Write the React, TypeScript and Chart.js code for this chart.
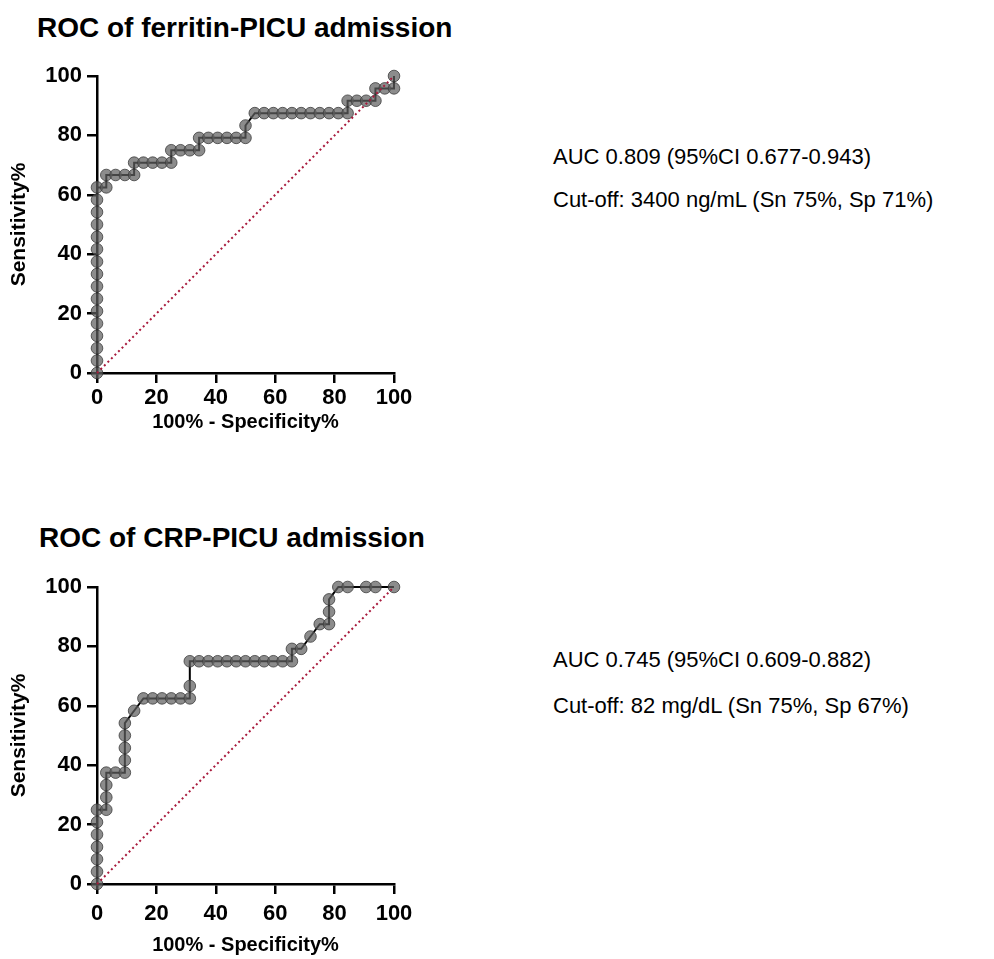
import React, { useEffect, useRef } from 'react';
import { Chart, registerables } from 'chart.js';

Chart.register(...registerables);

const FONT = '"Liberation Sans", Arial, Helvetica, sans-serif';

// ROC of ferritin – 100% - Specificity% (x) and Sensitivity% (y)
const ferritinX = [
  0, 0, 0, 0, 0, 0, 0, 0, 0, 0, 0, 0, 0, 0, 0, 0,
  3.13, 3.13, 6.25, 9.38, 12.5, 12.5, 15.63, 18.75, 21.88, 25, 25, 28.13, 31.25, 34.38,
  34.38, 37.5, 40.63, 43.75, 46.88, 50, 50, 53.13, 56.25, 59.38, 62.5, 65.63, 68.75,
  71.88, 75, 78.13, 81.25, 84.38, 84.38, 87.5, 90.63, 93.75, 93.75, 96.88, 100, 100,
];
const ferritinY = [
  0, 4.17, 8.33, 12.5, 16.67, 20.83, 25, 29.17, 33.33, 37.5, 41.67, 45.83, 50, 54.17, 58.33, 62.5,
  62.5, 66.67, 66.67, 66.67, 66.67, 70.83, 70.83, 70.83, 70.83, 70.83, 75, 75, 75, 75,
  79.17, 79.17, 79.17, 79.17, 79.17, 79.17, 83.33, 87.5, 87.5, 87.5, 87.5, 87.5, 87.5,
  87.5, 87.5, 87.5, 87.5, 87.5, 91.67, 91.67, 91.67, 91.67, 95.83, 95.83, 95.83, 100,
];

// ROC of CRP
const crpX = [
  0, 0, 0, 0, 0, 0, 0,
  3.13, 3.13, 3.13, 3.13, 6.25, 9.38, 9.38, 9.38, 9.38, 9.38,
  12.5, 15.63, 18.75, 21.88, 25, 28.13, 31.25, 31.25, 31.25,
  34.38, 37.5, 40.63, 43.75, 46.88, 50, 53.13, 56.25, 59.38, 62.5, 65.63,
  65.63, 68.75, 71.88, 75, 78.13, 78.13, 78.13,
  81.25, 84.38, 90.63, 93.75, 100,
];
const crpY = [
  0, 4.17, 8.33, 12.5, 16.67, 20.83, 25,
  25, 29.17, 33.33, 37.5, 37.5, 37.5, 41.67, 45.83, 50, 54.17,
  58.33, 62.5, 62.5, 62.5, 62.5, 62.5, 62.5, 66.67, 75,
  75, 75, 75, 75, 75, 75, 75, 75, 75, 75, 75,
  79.17, 79.17, 83.33, 87.5, 87.5, 91.67, 95.83,
  100, 100, 100, 100, 100,
];

const refX = [0, 100];
const refY = [0, 100];

const axisTicks = [0, 20, 40, 60, 80, 100];

const xTitle = '100% - Specificity%';
const yTitle = 'Sensitivity%';

const panels = [
  {
    title: 'ROC of ferritin-PICU admission',
    auc: 'AUC 0.809 (95%CI 0.677-0.943)',
    cutoff: 'Cut-off: 3400 ng/mL (Sn 75%, Sp 71%)',
  },
  {
    title: 'ROC of CRP-PICU admission',
    auc: 'AUC 0.745 (95%CI 0.609-0.882)',
    cutoff: 'Cut-off: 82 mg/dL (Sn 75%, Sp 67%)',
  },
];

type RocProps = { xs: number[]; ys: number[]; top: number; xTitlePad: number; xTickPad: number };

function RocChart({ xs, ys, top, xTitlePad, xTickPad }: RocProps) {
  const ref = useRef<HTMLCanvasElement | null>(null);
  useEffect(() => {
    if (!ref.current) return;
    const tickFont = { family: FONT, size: 22, weight: 'bold' as const };
    const titleFont = { family: FONT, size: 20, weight: 'bold' as const };
    const yTitleFont = { family: FONT, size: 21, weight: 'bold' as const };
    const chart = new Chart(ref.current, {
      type: 'scatter',
      data: {
        datasets: [
          {
            data: xs.map((x, i) => ({ x, y: ys[i] })),
            showLine: true,
            borderColor: '#000',
            borderWidth: 2,
            pointRadius: 5.8,
            pointBackgroundColor: 'rgba(95,95,95,0.72)',
            pointBorderColor: 'rgba(60,60,60,0.8)',
            pointBorderWidth: 1,
            clip: false,
            order: 1,
          } as any,
          {
            data: refX.map((x, i) => ({ x, y: refY[i] })),
            showLine: true,
            borderColor: '#a81a3c',
            borderWidth: 2,
            borderDash: [2, 3],
            pointRadius: 0,
            clip: false,
            order: 0,
          } as any,
        ],
      },
      options: {
        animation: false,
        responsive: false,
        maintainAspectRatio: false,
        layout: { padding: { top: 32, right: 46, left: 0, bottom: 0 } },
        plugins: { legend: { display: false }, tooltip: { enabled: false }, title: { display: false } },
        scales: {
          x: {
            type: 'linear',
            min: 0,
            max: 100,
            afterBuildTicks: (s: any) => {
              s.ticks = axisTicks.map((v) => ({ value: v }));
            },
            ticks: { color: '#000', font: tickFont, padding: xTickPad, maxRotation: 0 },
            grid: { drawOnChartArea: false, drawTicks: true, tickLength: 10, color: '#000', lineWidth: 2.5 },
            border: { display: true, color: '#000', width: 2.5 },
            title: { display: true, text: xTitle, color: '#000', font: titleFont, padding: { top: 0, bottom: xTitlePad } },
            afterFit: (s: any) => {
              s.height = 71;
            },
          },
          y: {
            type: 'linear',
            min: 0,
            max: 100,
            afterBuildTicks: (s: any) => {
              s.ticks = axisTicks.map((v) => ({ value: v }));
            },
            ticks: { color: '#000', font: tickFont, padding: 5 },
            grid: { drawOnChartArea: false, drawTicks: true, tickLength: 10, color: '#000', lineWidth: 2.5 },
            border: { display: true, color: '#000', width: 2.5 },
            title: { display: true, text: yTitle, color: '#000', font: yTitleFont, padding: { top: 7, bottom: 0 } },
            afterFit: (s: any) => {
              s.width = 97;
            },
          },
        },
      } as any,
    });
    return () => chart.destroy();
  }, []);
  return (
    <canvas
      ref={ref}
      width={440}
      height={400}
      style={{ position: 'absolute', left: 0, top, width: 440, height: 400 }}
    />
  );
}

const titleStyle = (top: number, left: number): React.CSSProperties => ({
  position: 'absolute',
  left,
  top,
  fontFamily: FONT,
  fontWeight: 'bold',
  fontSize: 28,
  lineHeight: '28px',
  color: '#000',
  whiteSpace: 'nowrap',
});

const noteStyle = (top: number): React.CSSProperties => ({
  position: 'absolute',
  left: 553,
  top,
  fontFamily: FONT,
  fontSize: 22,
  lineHeight: '22px',
  color: '#000',
  whiteSpace: 'nowrap',
});

export default function App() {
  return (
    <div style={{ position: 'absolute', left: 0, top: 0, width: 994, height: 959, background: '#fff' }}>
      <div style={titleStyle(14, 37)}>{panels[0].title}</div>
      <RocChart xs={ferritinX} ys={ferritinY} top={44} xTitlePad={10} xTickPad={2} />
      <div style={noteStyle(146)}>{panels[0].auc}</div>
      <div style={noteStyle(189)}>{panels[0].cutoff}</div>

      <div style={titleStyle(524, 39)}>{panels[1].title}</div>
      <RocChart xs={crpX} ys={crpY} top={555} xTitlePad={-2} xTickPad={7} />
      <div style={noteStyle(649)}>{panels[1].auc}</div>
      <div style={noteStyle(695)}>{panels[1].cutoff}</div>
    </div>
  );
}
